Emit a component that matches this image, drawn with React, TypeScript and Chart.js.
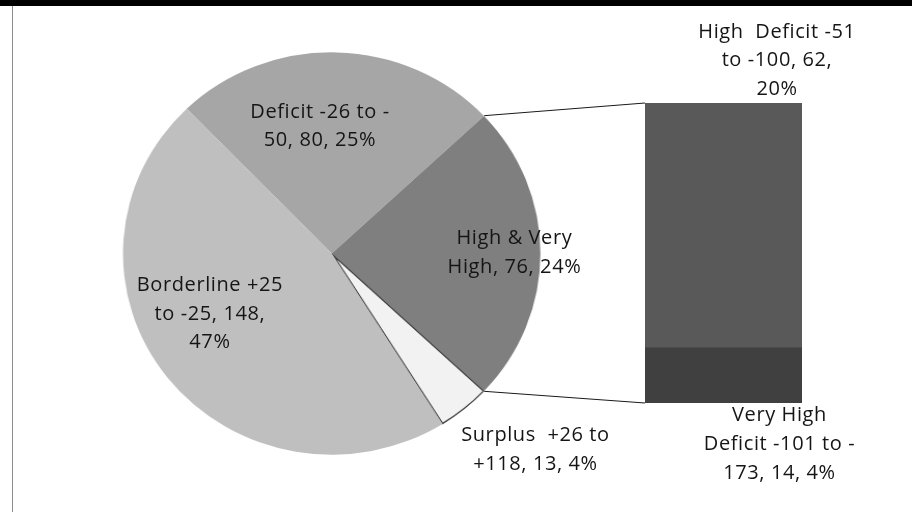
import React, { useEffect, useRef } from "react";
import { Chart, registerables } from "chart.js";

Chart.register(...registerables);

// ---- data ----
const pieCategories = ["Deficit -26 to -50", "High & Very High", "Surplus  +26 to +118", "Borderline +25 to -25"];
const pieValues = [80, 76, 13, 148];
const pieColors = ["#a6a6a6", "#7f7f7f", "#f2f2f2", "#bfbfbf"];
const pieLabelText = [
  "Deficit -26 to -|50, {v}, {p}%",
  "High & Very|High, {v}, {p}%",
  "Surplus  +26 to|+118, {v}, {p}%",
  "Borderline +25|to -25, {v},|{p}%",
];

const barCategories = ["Very High Deficit -101 to -173", "High Deficit -51 to -100"];
const barValues = [14, 62];
const barColors = ["#404040", "#595959"];
const barLabelText = ["Very High|Deficit -101 to -|173, {v}, {p}%", "High  Deficit -51|to -100, {v},|{p}%"];

const OTHER_INDEX = 1; // pie slice that is broken out into the bar

// ---- layout / style ----
const W = 912;
const H = 512;
const STRETCH = 1.0375;
const PIE_W = Math.round(W / STRETCH);
const SX = W / PIE_W;
const FONT = "500 20px 'Open Sans'";
const LETTER = "0.6px";
const LH = 28.6;
const CAP = 14;
const TEXT_COLOR = "#151515";

const pieLabelPlacement = [
  { frac: 0.637, dx: -15, dy: 0 },
  { frac: 0.874, dx: 0, dy: -2 },
  { frac: 1.3, dx: 31, dy: -7 },
  { frac: 0.6, dx: -23, dy: -15.5 },
];

const total = pieValues.reduce((a, b) => a + b, 0);
const barTotal = barValues.reduce((a, b) => a + b, 0);
const pct = (v: number) => Math.round((v / total) * 100);
const fmt = (t: string, v: number) => t.replace("{v}", String(v)).replace("{p}", String(pct(v))).split("|");

// Excel centres the broken-out slice on the right-hand horizontal
const before = pieValues.slice(0, OTHER_INDEX).reduce((a, b) => a + b, 0);
const rotation = 90 - ((before + pieValues[OTHER_INDEX] / 2) / total) * 360;

function drawLines(ctx: CanvasRenderingContext2D, lines: string[], x: number, firstBaseline: number) {
  lines.forEach((l, i) => ctx.fillText(l, x, firstBaseline + i * LH));
}

export default function App() {
  const pieRef = useRef<HTMLCanvasElement>(null);
  const barRef = useRef<HTMLCanvasElement>(null);

  useEffect(() => {
    document.body.style.margin = "0";
    if (!pieRef.current || !barRef.current) return;

    const pie = new Chart(pieRef.current, {
      type: "pie",
      data: {
        labels: pieCategories,
        datasets: [
          {
            data: pieValues,
            backgroundColor: pieColors,
            borderWidth: pieValues.map((_, i) => (i === 2 ? 1 : 0)),
            borderColor: "#404040",
            borderAlign: "inner",
          } as any,
        ],
      },
      options: {
        animation: false,
        responsive: false,
        maintainAspectRatio: false,
        devicePixelRatio: 1,
        rotation,
        events: [],
        layout: { padding: { left: 118.2, right: 357.8, top: 52, bottom: 57 } },
        plugins: { legend: { display: false }, tooltip: { enabled: false } },
      },
    });

    const overlay = {
      id: "overlay",
      beforeDraw(chart: any) {
        const ctx = chart.ctx;
        ctx.save();
        ctx.fillStyle = "#000";
        ctx.fillRect(0, 0, chart.width, 6);
        ctx.fillStyle = "#8c8c8c";
        ctx.fillRect(12, 6, 1, chart.height - 6);
        ctx.restore();
      },
      afterDatasetsDraw(chart: any) {
        const ctx: CanvasRenderingContext2D = chart.ctx;
        // map pie-canvas coordinates to overlay coordinates
        const pr = pie.canvas.getBoundingClientRect();
        const or = chart.canvas.getBoundingClientRect();
        const kx = pr.width / pie.width;
        const ky = pr.height / pie.height;
        const mx = (x: number) => pr.left - or.left + x * kx;
        const my = (y: number) => pr.top - or.top + y * ky;

        const arcs = pie.getDatasetMeta(0).data as any[];
        const topBar = chart.getDatasetMeta(1).data[0].getProps(["x", "y", "base", "width"], true);
        const botBar = chart.getDatasetMeta(0).data[0].getProps(["x", "y", "base", "width"], true);

        // connectors
        const o = arcs[OTHER_INDEX].getProps(["x", "y", "startAngle", "endAngle", "outerRadius"], true);
        const p1 = { x: mx(o.x + o.outerRadius * Math.cos(o.startAngle)), y: my(o.y + o.outerRadius * Math.sin(o.startAngle)) };
        const p2 = { x: mx(o.x + o.outerRadius * Math.cos(o.endAngle)), y: my(o.y + o.outerRadius * Math.sin(o.endAngle)) };
        ctx.save();
        ctx.strokeStyle = "#1a1a1a";
        ctx.lineWidth = 1;
        ctx.beginPath();
        ctx.moveTo(p1.x, p1.y);
        ctx.lineTo(topBar.x - topBar.width / 2, topBar.y);
        ctx.moveTo(p2.x, p2.y);
        ctx.lineTo(botBar.x - botBar.width / 2, botBar.base);
        ctx.stroke();
        ctx.restore();

        // labels
        ctx.save();
        ctx.font = FONT;
        (ctx as any).letterSpacing = LETTER;
        ctx.fillStyle = TEXT_COLOR;
        ctx.textAlign = "center";
        ctx.textBaseline = "alphabetic";
        arcs.forEach((arc, i) => {
          const a = arc.getProps(["x", "y", "startAngle", "endAngle", "outerRadius"], true);
          const mid = (a.startAngle + a.endAngle) / 2;
          const pl = pieLabelPlacement[i];
          const ax = mx(a.x + pl.frac * a.outerRadius * Math.cos(mid)) + pl.dx;
          const ay = my(a.y + pl.frac * a.outerRadius * Math.sin(mid)) + pl.dy;
          const lines = fmt(pieLabelText[i], pieValues[i]);
          drawLines(ctx, lines, ax, ay - ((lines.length - 1) * LH) / 2 + CAP / 2);
        });
        // bar labels
        const topLines = fmt(barLabelText[1], barValues[1]);
        drawLines(ctx, topLines, topBar.x + 53.5, topBar.y - 8.3 - (topLines.length - 1) * LH);
        const botLines = fmt(barLabelText[0], barValues[0]);
        drawLines(ctx, botLines, botBar.x + 56, botBar.base + 18.4);
        ctx.restore();
      },
    };

    const bar = new Chart(barRef.current, {
      type: "bar",
      data: {
        labels: ["Other"],
        datasets: barValues.map((v, i) => ({
          label: barCategories[i],
          data: [v],
          backgroundColor: barColors[i],
          borderWidth: 0,
          barPercentage: 1,
          categoryPercentage: 1,
        })),
      },
      options: {
        animation: false,
        responsive: false,
        maintainAspectRatio: false,
        devicePixelRatio: 1,
        events: [],
        layout: { padding: { left: 645, right: 110, top: 103, bottom: 109 } },
        scales: {
          x: { stacked: true, display: false },
          y: { stacked: true, display: false, min: 0, max: barTotal },
        },
        plugins: { legend: { display: false }, tooltip: { enabled: false } },
      },
      plugins: [overlay as any],
    });

    return () => {
      bar.destroy();
      pie.destroy();
    };
  }, []);

  return (
    <div style={{ position: "relative", width: W, height: H, overflow: "hidden", background: "#fff" }}>
      <div
        style={{
          position: "absolute",
          left: 0,
          top: 0,
          width: PIE_W,
          height: H,
          transform: `scaleX(${SX})`,
          transformOrigin: "0 0",
        }}
      >
        <canvas ref={pieRef} width={PIE_W} height={H} style={{ display: "block", width: PIE_W, height: H }} />
      </div>
      <div style={{ position: "absolute", left: 0, top: 0, width: W, height: H }}>
        <canvas ref={barRef} width={W} height={H} style={{ display: "block", width: W, height: H }} />
      </div>
    </div>
  );
}
